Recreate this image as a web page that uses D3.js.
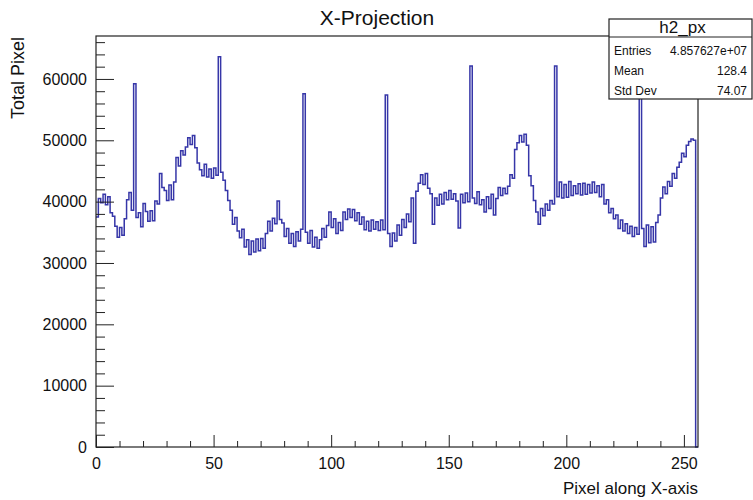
<!DOCTYPE html>
<html>
<head>
<meta charset="utf-8">
<script src="https://cdn.jsdelivr.net/npm/d3@7"></script>
<style>
  html, body { margin: 0; padding: 0; background: #fff; }
  svg { display: block; font-family: "Liberation Sans", Arial, Helvetica, sans-serif; }
</style>
</head>
<body>
<svg id="chart" width="753" height="500"></svg>
<script>
// ---- data (ROOT histogram h2_px, 256 bins over [0,256]) ----
const title = "X-Projection";
const xTitle = "Pixel along X-axis";
const yTitle = "Total Pixel";
const xRange = [0, 256];
const yMax = 67000;
const xTickValues = [0, 50, 100, 150, 200, 250];
const yTickValues = [0, 10000, 20000, 30000, 40000, 50000, 60000];
const statsName = "h2_px";
const statsLabels = ["Entries", "Mean", "Std Dev"];
const statsValues = ["4.857627e+07", "128.4", "74.07"];

const binContents = [
  37500, 40500, 39800, 41200, 39500, 40800, 38200, 37600, 36000, 34200,
  35800, 34500, 37200, 40300, 41500, 38600, 59200, 37400, 38200, 35900,
  39700, 38400, 36800, 38500, 36900, 40100, 39600, 44600, 42300, 41800,
  40200, 42700, 40300, 43200, 47200, 45800, 48300, 47600, 48900, 50400,
  49300, 50800, 48800, 46300, 45200, 44200, 46100, 44000, 45300, 43800,
  45500, 44300, 63600, 44800, 43500, 41800, 40200, 38600, 36300, 37400,
  35200, 34100, 35500, 32600, 33800, 31400, 33600, 31800, 33900, 32000,
  34000, 32400, 34800, 36800, 35200, 37300, 36400, 40100, 37100, 36500,
  34300, 35600, 33200, 34800, 32700, 35100, 33600, 35500, 57600, 35000,
  33200, 35300, 32600, 34200, 32400, 33800, 35600, 34200, 36100, 38300,
  35800, 37200, 34800, 36600, 35300, 38300, 37100, 38800, 37400, 38700,
  36900, 38200, 36300, 37500, 35400, 36800, 35200, 37000, 35500, 36700,
  35300, 37000, 35400, 57400, 34800, 32700, 34900, 33600, 36200, 34500,
  37100, 35800, 38000, 36700, 40600, 33200, 41700, 43000, 44400, 42800,
  44600, 42200, 41300, 36300, 40600, 39400, 41200, 39600, 41500, 40300,
  41800, 40400, 41300, 40100, 35700, 41200, 39800, 41400, 40000, 62100,
  40600, 39700, 41600, 39500, 40300, 38300, 40800, 38900, 41200, 37800,
  40500, 42300, 41000, 42200, 41300, 42500, 44400, 43800, 48500, 49600,
  50800, 49700, 51000, 49200, 44200, 42600, 40200, 38300, 36300, 38900,
  37700, 39600, 38600, 40200, 39600, 62100, 40800, 43200, 40600, 42800,
  40700, 43300, 41000, 42600, 41300, 42900, 41100, 43000, 41200, 42800,
  41400, 43200, 41500, 42600, 40800, 42800, 39600, 40300, 38200, 38900,
  37200, 37800, 35600, 37000, 35200, 36400, 34800, 36000, 34300, 35800,
  34700, 62000, 35600, 32700, 36200, 33300, 35900, 33400, 36600, 37800,
  40600, 42400, 41300, 43300, 42500, 44600, 43800, 45600, 46400, 47900,
  47300, 49200, 49800, 50200, 50000, 0
];

// ---- layout ----
const frame = { left: 96, right: 698, top: 36, bottom: 447 };
const lineColor = "#3636a8";

const svg = d3.select("#chart");
const x = d3.scaleLinear().domain(xRange).range([frame.left, frame.right]);
const y = d3.scaleLinear().domain([0, yMax]).range([frame.bottom, frame.top]);

// title
svg.append("text")
  .attr("x", 377).attr("y", 25)
  .attr("text-anchor", "middle")
  .attr("font-size", 21)
  .attr("fill", "#111")
  .text(title);

// histogram step line
const pts = binContents.map((v, i) => [i, v]);
pts.push([binContents.length, binContents[binContents.length - 1]]);
const line = d3.line()
  .x(d => x(d[0]))
  .y(d => y(d[1]))
  .curve(d3.curveStepAfter);
svg.append("path")
  .attr("d", line(pts))
  .attr("fill", "none")
  .attr("stroke", lineColor)
  .attr("stroke-width", 1.5);

// frame
svg.append("rect")
  .attr("x", frame.left).attr("y", frame.top)
  .attr("width", frame.right - frame.left)
  .attr("height", frame.bottom - frame.top)
  .attr("fill", "none")
  .attr("stroke", "#222")
  .attr("stroke-width", 1.2);

// x axis (ticks inside)
const xMinor = d3.range(0, 257, 10).filter(v => v % 50 !== 0);
const xAxisMajor = d3.axisBottom(x).tickValues(xTickValues).tickSizeInner(-12).tickSizeOuter(0).tickPadding(10).tickFormat(d3.format("d"));
const xAxisMinor = d3.axisBottom(x).tickValues(xMinor).tickSizeInner(-6).tickSizeOuter(0).tickFormat("");
const gxm = svg.append("g").attr("transform", `translate(0,${frame.bottom})`).call(xAxisMinor);
const gx = svg.append("g").attr("transform", `translate(0,${frame.bottom})`).call(xAxisMajor);
[gx, gxm].forEach(g => { g.select(".domain").remove(); g.selectAll("line").attr("stroke", "#222"); });
gx.selectAll("text").attr("font-size", 16).attr("fill", "#111").attr("font-family", "Liberation Sans, Arial, sans-serif").attr("dy", "0.75em");

// y axis (ticks inside)
const yMinor = d3.range(0, yMax, 2000).filter(v => v % 10000 !== 0);
const yAxisMajor = d3.axisLeft(y).tickValues(yTickValues).tickSizeInner(-18).tickSizeOuter(0).tickPadding(9).tickFormat(d3.format("d"));
const yAxisMinor = d3.axisLeft(y).tickValues(yMinor).tickSizeInner(-9).tickSizeOuter(0).tickFormat("");
const gym = svg.append("g").attr("transform", `translate(${frame.left},0)`).call(yAxisMinor);
const gy = svg.append("g").attr("transform", `translate(${frame.left},0)`).call(yAxisMajor);
[gy, gym].forEach(g => { g.select(".domain").remove(); g.selectAll("line").attr("stroke", "#222"); });
gy.selectAll("text").attr("font-size", 16).attr("fill", "#111").attr("font-family", "Liberation Sans, Arial, sans-serif");
gy.selectAll("text").attr("x", -9);
gx.selectAll("text").attr("y", 10);

// axis titles
svg.append("text")
  .attr("x", frame.right).attr("y", 494)
  .attr("text-anchor", "end")
  .attr("font-size", 17)
  .attr("fill", "#111")
  .text(xTitle);
svg.append("text")
  .attr("transform", `translate(24,${frame.top + 1}) rotate(-90)`)
  .attr("text-anchor", "end")
  .attr("font-size", 18)
  .attr("fill", "#111")
  .text(yTitle);

// stats box
const box = { x: 609, y: 19, w: 143, h: 80, sep: 37 };
svg.append("rect")
  .attr("x", box.x).attr("y", box.y).attr("width", box.w).attr("height", box.h)
  .attr("fill", "#fff").attr("stroke", "#222").attr("stroke-width", 1.2);
svg.append("line")
  .attr("x1", box.x).attr("x2", box.x + box.w)
  .attr("y1", box.sep).attr("y2", box.sep)
  .attr("stroke", "#222");
svg.append("text")
  .attr("x", box.x + box.w / 2 + 2).attr("y", 33)
  .attr("text-anchor", "middle")
  .attr("font-size", 17)
  .attr("fill", "#111")
  .text(statsName);
const rowY = [55, 75, 95];
statsLabels.forEach((lab, i) => {
  svg.append("text").attr("x", box.x + 5).attr("y", rowY[i])
    .attr("font-size", 12).attr("fill", "#111").text(lab);
  svg.append("text").attr("x", 747).attr("y", rowY[i])
    .attr("text-anchor", "end")
    .attr("font-size", 12).attr("fill", "#111").text(statsValues[i]);
});
</script>
</body>
</html>
